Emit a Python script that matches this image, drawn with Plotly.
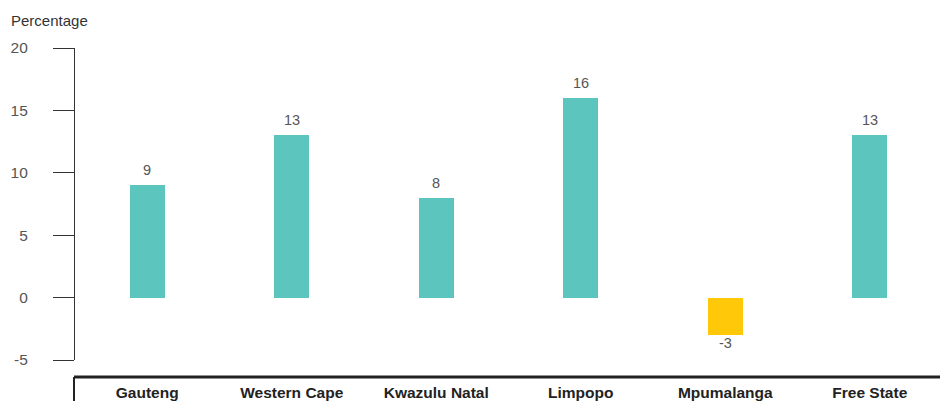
import plotly.graph_objects as go

provinces = ["Gauteng", "Western Cape", "Kwazulu Natal", "Limpopo", "Mpumalanga", "Free State"]
values = [9, 13, 8, 16, -3, 13]
y_ticks = [-5, 0, 5, 10, 15, 20]

TEAL = "#5BC5BE"
YELLOW = "#FFC90A"
colors = [YELLOW if v < 0 else TEAL for v in values]
FONT = "Liberation Sans, Arial, sans-serif"

W, H = 940, 401
ML, MR, MT, MB = 75, 0, 48, 41

fig = go.Figure(go.Bar(
    x=list(range(len(provinces))), y=values,
    marker=dict(color=colors, line=dict(width=0)),
    width=0.242,
    cliponaxis=False,
))

for i, v in enumerate(values):
    fig.add_annotation(x=i, y=v, text=str(v), showarrow=False,
                       xanchor="center", yanchor="middle",
                       yshift=15 if v >= 0 else -8,
                       font=dict(size=14.5, color="#555555", family=FONT))

fig.update_layout(
    width=W, height=H,
    margin=dict(l=ML, r=MR, t=MT, b=MB, pad=0, autoexpand=False),
    plot_bgcolor="white", paper_bgcolor="white",
    font=dict(family=FONT, size=14, color="#555555"),
    showlegend=False,
    bargap=0,
)

fig.update_xaxes(
    range=[-0.5, 5.486],
    tickmode="array", tickvals=list(range(len(provinces))), ticktext=provinces,
    tickfont=dict(size=15.5, color="#222222", family=FONT, weight="bold"),
    ticks="", showline=False, showgrid=False, zeroline=False,
    ticklabelstandoff=21, automargin=False,
)
fig.update_yaxes(
    range=[-5, 20],
    tickmode="array", tickvals=y_ticks, ticktext=[str(t) for t in y_ticks],
    ticks="outside", ticklen=21, tickwidth=1.2, tickcolor="#333333",
    showline=True, linecolor="#333333", linewidth=1.2,
    showgrid=False, zeroline=False,
    tickfont=dict(size=15.5, color="#555555"),
    ticklabelstandoff=22, automargin=False,
)

# Category table box beneath the chart
y_top = -(377 - (H - MB)) / (H - MT - MB)
x_left = (74 - ML) / (W - ML - MR)
fig.add_shape(type="line", xref="paper", yref="paper",
              x0=x_left, x1=1.02, y0=y_top, y1=y_top,
              line=dict(color="#222222", width=3))
fig.add_shape(type="line", xref="paper", yref="paper",
              x0=x_left, x1=x_left, y0=y_top, y1=-0.2,
              line=dict(color="#222222", width=2))

fig.add_annotation(text="Percentage", xref="paper", yref="paper",
                   x=-(ML - 9) / (W - ML - MR), y=1 + (MT - 20) / (H - MT - MB),
                   xanchor="left", yanchor="middle", showarrow=False,
                   font=dict(size=15, color="#333333", family=FONT))

fig.write_html("out.html")
